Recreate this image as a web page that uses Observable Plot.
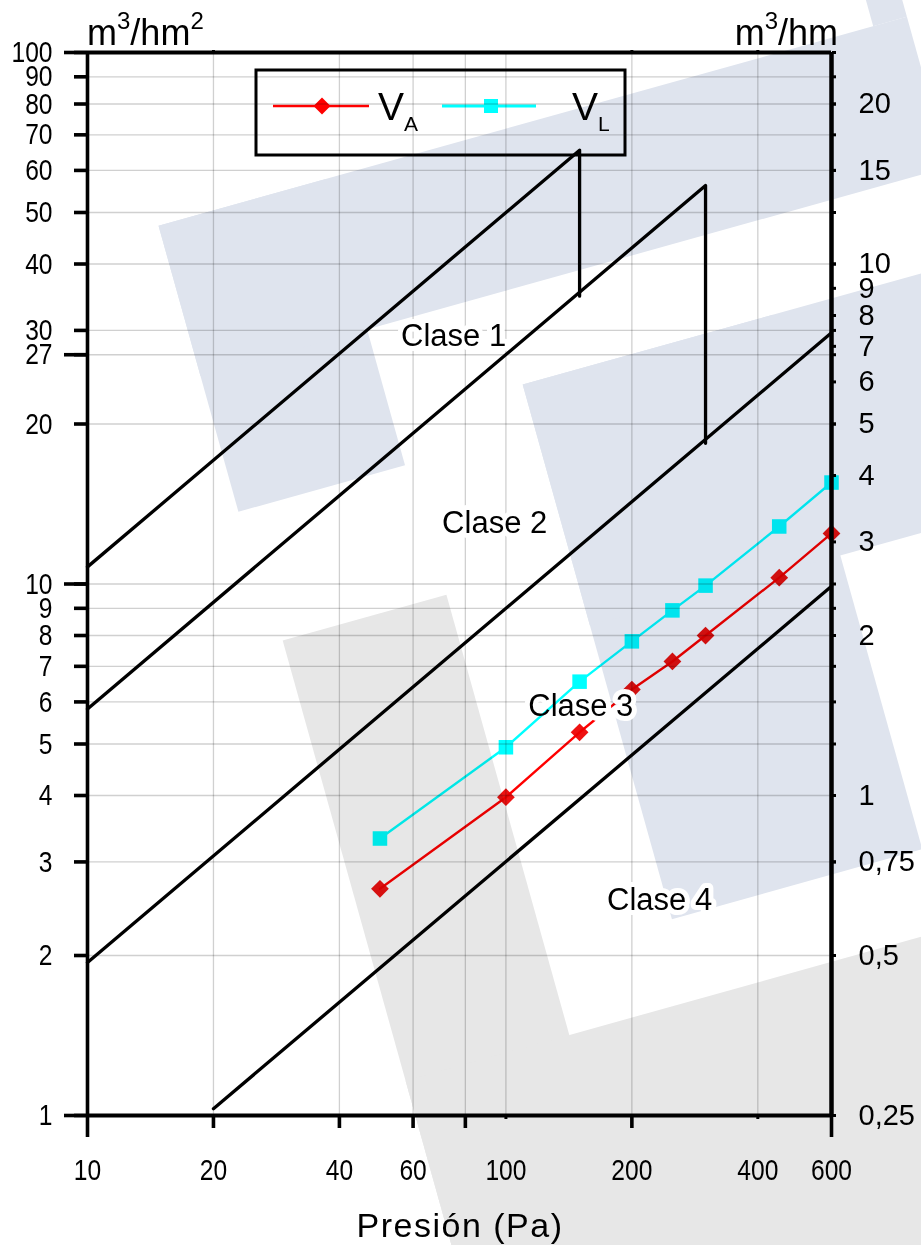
<!DOCTYPE html>
<html><head><meta charset="utf-8">
<script src="https://cdn.jsdelivr.net/npm/d3@7"></script>
<script src="https://cdn.jsdelivr.net/npm/@observablehq/plot@0.6"></script>
<style>
html,body{margin:0;padding:0;background:#fff;}
#wrap{position:relative;width:921px;height:1245px;overflow:hidden;background:#fff;}
#wrap svg{display:block;}
</style></head><body>
<div id="wrap"></div>
<script>
// ---- data ----
const pressure = [50, 100, 150, 200, 250, 300, 450, 600];           // Pa
const vA = [2.67, 3.97, 5.26, 6.33, 7.15, 8.0, 10.28, 12.45];        // m3/hm2
const vL = [3.32, 4.93, 6.55, 7.80, 8.92, 9.93, 12.83, 15.52];       // m3/hm2
const clase1 = [[10, 10.77], [150, 65.5], [150, 34.8]];
const clase2 = [[10, 5.82], [300, 56.2], [300, 18.4]];
const clase3 = [[10, 1.94], [600, 29.7]];
const clase4 = [[20, 1.03], [600, 9.9]];
const claseNames = ["Clase 1", "Clase 2", "Clase 3", "Clase 4"];
const claseNameP = [75, 94, 151, 233];
const claseNameV = [29.3, 13.0, 5.9, 2.54];
const xTicks = [10, 20, 40, 60, 80, 100, 200, 400, 600];
const yTicks = [1, 2, 3, 4, 5, 6, 7, 8, 9, 10, 20, 27, 30, 40, 50, 60, 70, 80, 90, 100];
const rightTicks = [20, 15, 10, 9, 8, 7, 6, 5, 4, 3, 2, 1, 0.75, 0.5, 0.25]; // m3/hm
const perLength = 4; // m3/hm2 per m3/hm on this chart

// ---- build tables ----
const series = pressure.map((p, i) => ({p, va: vA[i], vl: vL[i]}));
const classRows = [clase1, clase2, clase3, clase4].flatMap((pts, k) => pts.map(([x, y]) => ({x, y, k})));
const claseLabels = claseNames.map((t, i) => ({t, x: claseNameP[i], y: claseNameV[i]}));
const rightPos = rightTicks.map(v => v * perLength);

const sans = '"Liberation Sans",Arial,Helvetica,sans-serif';
const gridC = "#d0d0d0";

const plot = Plot.plot({
  width: 921, height: 1245,
  marginLeft: 87, marginRight: 90, marginTop: 52, marginBottom: 130,
  style: {background: "transparent", color: "#000", overflow: "visible"},
  x: {type: "log", domain: [10, 600], label: null},
  y: {type: "log", domain: [1, 100], label: null},
  marks: [
    Plot.gridY(yTicks.filter(v => v > 1 && v < 100), {stroke: gridC, strokeOpacity: 1, strokeWidth: 1.3, mixBlendMode: "multiply"}),
    Plot.gridX(xTicks.filter(v => v > 10 && v < 600), {stroke: gridC, strokeOpacity: 1, strokeWidth: 1.3, mixBlendMode: "multiply"}),
    Plot.line(classRows, {x: "x", y: "y", z: "k", stroke: "#000", strokeWidth: 3.3, mixBlendMode: "multiply"}),
    Plot.line(series, {x: "p", y: "va", stroke: "#ff0000", strokeWidth: 2.4, mixBlendMode: "multiply"}),
    Plot.dot(series, {x: "p", y: "va", symbol: "diamond2", r: 8, fill: "#ee1111", stroke: null, mixBlendMode: "multiply"}),
    Plot.text(claseLabels, {x: "x", y: "y", text: "t", fontSize: 31, fontFamily: sans, fill: "#000",
      stroke: "white", strokeWidth: 10, strokeLinejoin: "round", paintOrder: "stroke"}),
    Plot.line(series, {x: "p", y: "vl", stroke: "#00ffff", strokeWidth: 2.4, mixBlendMode: "multiply"}),
    Plot.dot(series, {x: "p", y: "vl", symbol: "square", r: 8.2, fill: "#00ffff", stroke: null, mixBlendMode: "multiply"}),
    // frame
    Plot.ruleX([10], {stroke: "#000", strokeWidth: 3.6}),
    Plot.ruleX([600], {stroke: "#000", strokeWidth: 4.5}),
    Plot.ruleY([1, 100], {stroke: "#000", strokeWidth: 3.8}),
    // left axis
    Plot.axisY(yTicks, {anchor: "left", tickSize: 13, tickPadding: 22, strokeWidth: 3.6, fontSize: 30,
      fontFamily: sans, fill: "#000", tickFormat: d => String(d), label: null}),
    Plot.axisY([1, 10, 27, 100], {anchor: "left", tickSize: 23, strokeWidth: 3.6, fill: "none", label: null}),
    // right axis
    Plot.axisY(yTicks, {anchor: "right", tickSize: 4, strokeWidth: 3, fill: "none", label: null}),
    Plot.axisY(rightPos, {anchor: "right", tickSize: 4, tickPadding: 23, strokeWidth: 3, fontSize: 29,
      fontFamily: sans, fill: "#000", tickFormat: d => String(+(d / perLength).toFixed(2)).replace(".", ","), label: null}),
    // bottom axis
    Plot.axisX([20, 40, 60, 80, 200], {anchor: "bottom", tickSize: 13, strokeWidth: 3.6, fill: "none", label: null}),
    Plot.axisX([10, 600], {anchor: "bottom", tickSize: 22, strokeWidth: 3.6, fill: "none", label: null}),
    Plot.axisX([100, 400], {anchor: "bottom", tickSize: 4, strokeWidth: 3, fill: "none", label: null}),
    Plot.axisX(xTicks, {anchor: "bottom", tickSize: 0, tickPadding: 43, fontSize: 30, fontFamily: sans,
      fill: "#000", tickFormat: d => String(d), label: null}),
    Plot.axisX([20, 200, 400], {anchor: "top", tickSize: 3, strokeWidth: 3, fill: "none", label: null})
  ]
});

// condensed look for the left and bottom tick labels (the reference uses a narrow face)
plot.querySelectorAll('g[aria-label="x-axis tick label"], g[aria-label="y-axis tick label"]').forEach(g => {
  if (g.getAttribute("aria-label") === "y-axis tick label" && g.getAttribute("text-anchor") !== "end") return;
  g.querySelectorAll("text").forEach(t => {
    const tr = t.getAttribute("transform");
    if (tr) t.setAttribute("transform", tr + " scale(0.82,1)");
    else {
      const x = +t.getAttribute("x") || 0;
      t.removeAttribute("x");
      t.setAttribute("transform", `translate(${x},0) scale(0.82,1)`);
    }
  });
});

// ---- decorative watermark (behind the marks, in a rotated frame) ----
const WM_BLUE = "#dfe4ee", WM_GREY = "#e7e7e7";
const watermark = [
  [WM_BLUE, 92, 260, 173, 297],
  [WM_BLUE, 92, 260, 777, 156],
  [WM_BLUE, 834, -300, 35, 560],
  [WM_BLUE, 400, 511, 260, 555],
  [WM_BLUE, 400, 511, 600, 250],
  [WM_GREY, 100, 693, 170, 1000],
  [WM_GREY, 100, 1150, 1100, 600]
];
const ns = "http://www.w3.org/2000/svg";
const wm = document.createElementNS(ns, "g");
wm.setAttribute("transform", "rotate(-15.6)");
for (const [f, x, y, w, h] of watermark) {
  const r = document.createElementNS(ns, "rect");
  r.setAttribute("x", x); r.setAttribute("y", y); r.setAttribute("width", w); r.setAttribute("height", h);
  r.setAttribute("fill", f);
  wm.appendChild(r);
}
const firstG = plot.querySelector(":scope > g");
plot.insertBefore(wm, firstG);

const wrap = document.getElementById("wrap");
wrap.appendChild(plot);

// ---- overlay: unit titles, axis title, legend ----
const ov = d3.create("svg").attr("width", 921).attr("height", 1245)
  .style("position", "absolute").style("left", "0px").style("top", "0px")
  .style("mix-blend-mode", "multiply").style("pointer-events", "none")
  .attr("font-family", sans).attr("fill", "#000");

function unitTitle(x, anchor, parts) {
  const t = ov.append("text").attr("x", x).attr("y", 45).attr("font-size", 36).attr("text-anchor", anchor);
  for (const [s, sup] of parts) {
    t.append("tspan").attr("font-size", sup ? 24 : 36).attr("dy", sup ? -16 : 16).text(s);
  }
  t.select("tspan").attr("dy", 0);
}
unitTitle(87, "start", [["m", 0], ["3", 1], ["/hm", 0], ["2", 1]]);
unitTitle(838, "end", [["m", 0], ["3", 1], ["/hm", 0]]);

ov.append("text").attr("x", 460).attr("y", 1237).attr("text-anchor", "middle")
  .attr("font-size", 34).attr("letter-spacing", 1.5).text("Presión (Pa)");

// legend
const lg = ov.append("g");
lg.append("rect").attr("x", 256).attr("y", 70).attr("width", 369).attr("height", 85)
  .attr("fill", "#fff").attr("stroke", "#000").attr("stroke-width", 3);
lg.append("line").attr("x1", 273).attr("x2", 369).attr("y1", 106).attr("y2", 106).attr("stroke", "#ff0000").attr("stroke-width", 2.6);
lg.append("path").attr("d", "M322,97.5L330.5,106L322,114.5L313.5,106Z").attr("fill", "#ff0000");
lg.append("line").attr("x1", 442).attr("x2", 536).attr("y1", 106).attr("y2", 106).attr("stroke", "#00ffff").attr("stroke-width", 2.8);
lg.append("rect").attr("x", 484).attr("y", 99).attr("width", 14).attr("height", 14).attr("fill", "#00ffff");
function vLabel(x, sub) {
  const t = lg.append("text").attr("x", x).attr("y", 120).attr("font-size", 39);
  t.append("tspan").text("V");
  t.append("tspan").attr("font-size", 21).attr("dy", 11).text(sub);
}
vLabel(378, "A");
vLabel(572, "L");

wrap.appendChild(ov.node());
</script>
</body></html>
